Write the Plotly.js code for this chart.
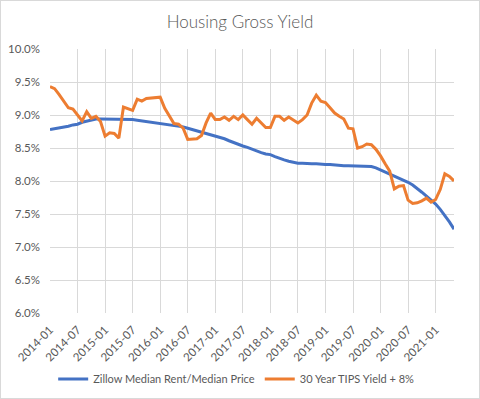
<!DOCTYPE html>
<html>
<head>
<meta charset="utf-8">
<script src="https://cdn.plot.ly/plotly-3.0.1.min.js"></script>
<style>
html,body{margin:0;padding:0;background:#fff;}
#chart{width:478px;height:397px;border:1px solid #d9d9d9;}
</style>
</head>
<body>
<div id="chart"></div>
<script>
const months = [
"2014-01","2014-02","2014-03","2014-04","2014-05","2014-06","2014-07","2014-08","2014-09","2014-10","2014-11","2014-12",
"2015-01","2015-02","2015-03","2015-04","2015-05","2015-06","2015-07","2015-08","2015-09","2015-10","2015-11","2015-12",
"2016-01","2016-02","2016-03","2016-04","2016-05","2016-06","2016-07","2016-08","2016-09","2016-10","2016-11","2016-12",
"2017-01","2017-02","2017-03","2017-04","2017-05","2017-06","2017-07","2017-08","2017-09","2017-10","2017-11","2017-12",
"2018-01","2018-02","2018-03","2018-04","2018-05","2018-06","2018-07","2018-08","2018-09","2018-10","2018-11","2018-12",
"2019-01","2019-02","2019-03","2019-04","2019-05","2019-06","2019-07","2019-08","2019-09","2019-10","2019-11","2019-12",
"2020-01","2020-02","2020-03","2020-04","2020-05","2020-06","2020-07","2020-08","2020-09","2020-10","2020-11","2020-12",
"2021-01","2021-02","2021-03","2021-04","2021-05"];

const tickLabels = ["2014-01","2014-07","2015-01","2015-07","2016-01","2016-07","2017-01","2017-07",
"2018-01","2018-07","2019-01","2019-07","2020-01","2020-07","2021-01"];

const zillowYield = [
8.78,8.79,8.80,8.82,8.83,8.85,8.86,8.89,8.91,8.93,8.94,8.94,
8.94,8.94,8.94,8.93,8.93,8.93,8.93,8.92,8.91,8.90,8.90,8.89,
8.88,8.87,8.86,8.85,8.84,8.82,8.80,8.78,8.77,8.75,8.73,8.71,
8.68,8.66,8.64,8.61,8.58,8.55,8.53,8.51,8.48,8.45,8.43,8.41,
8.40,8.37,8.34,8.32,8.30,8.28,8.27,8.27,8.26,8.26,8.26,8.25,
8.25,8.25,8.24,8.24,8.23,8.23,8.23,8.23,8.23,8.23,8.22,8.20,
8.17,8.13,8.10,8.07,8.04,8.01,7.98,7.94,7.89,7.83,7.77,7.71,
7.65,7.57,7.48,7.38,7.27];

const tipsYield = [
9.43,9.40,9.31,9.21,9.11,9.09,9.00,8.91,9.05,8.95,8.98,8.90,
8.68,8.73,8.72,8.65,9.12,9.10,9.07,9.24,9.21,9.25,9.26,9.26,
9.27,9.10,8.99,8.87,8.86,8.80,8.63,8.63,8.64,8.69,8.88,9.03,
8.93,8.93,8.97,8.92,8.98,8.93,9.00,8.93,8.86,8.95,8.88,8.81,
8.81,8.98,8.98,8.92,8.97,8.92,8.88,8.93,9.00,9.18,9.30,9.21,
9.19,9.11,9.03,8.98,8.94,8.80,8.79,8.50,8.52,8.56,8.55,8.48,
8.38,8.26,8.15,7.88,7.92,7.93,7.71,7.66,7.67,7.70,7.74,7.68,
7.72,7.87,8.11,8.07,8.00];

const seriesNames = ["Zillow Median Rent/Median Price","30 Year TIPS Yield + 8%"];
const yTicks = [6.0,6.5,7.0,7.5,8.0,8.5,9.0,9.5,10.0];

const fontFam = "Lato, 'Open Sans', sans-serif";
const txtColor = "#595959";

const data = [
  {x: months, y: zillowYield, type: "scatter", mode: "lines", name: seriesNames[0],
   line: {color: "#4472C4", width: 3}, hoverinfo: "skip"},
  {x: months, y: tipsYield, type: "scatter", mode: "lines", name: seriesNames[1],
   line: {color: "#ED7D31", width: 3}, hoverinfo: "skip"}
];

const layout = {
  width: 478, height: 397,
  margin: {l: 49, r: 25, t: 48, b: 85},
  paper_bgcolor: "#ffffff", plot_bgcolor: "#ffffff",
  font: {family: fontFam, size: 12, color: txtColor},
  title: {text: "Housing Gross Yield", x: 0.5, xanchor: "center", y: 0.947, yanchor: "middle",
          font: {family: fontFam, size: 17, color: txtColor, weight: 300}},
  xaxis: {type: "category", range: [0, months.length - 1], tickmode: "array",
          tickvals: tickLabels, ticktext: tickLabels, tickangle: -45, automargin: false,
          showgrid: true, gridcolor: "#d9d9d9", gridwidth: 1, showline: false, zeroline: false,
          ticks: "", ticklabelstandoff: 7, tickfont: {family: fontFam, size: 11.5, color: txtColor}, fixedrange: true},
  yaxis: {range: [6, 10], tickmode: "array", tickvals: yTicks, automargin: false,
          ticktext: yTicks.map(v => v.toFixed(1) + "%"),
          showgrid: true, gridcolor: "#d9d9d9", gridwidth: 1, showline: false, zeroline: false,
          ticks: "", ticklabelstandoff: 9, tickfont: {family: fontFam, size: 11.5, color: txtColor}, fixedrange: true},
  showlegend: true,
  legend: {orientation: "h", xref: "container", yref: "container", x: 0.492, xanchor: "center",
           y: 0.048, yanchor: "middle",
           font: {family: fontFam, size: 11, color: txtColor}, itemwidth: 30, bgcolor: "rgba(0,0,0,0)"}
};

Plotly.newPlot("chart", data, layout, {displayModeBar: false, staticPlot: true});
</script>
</body>
</html>
